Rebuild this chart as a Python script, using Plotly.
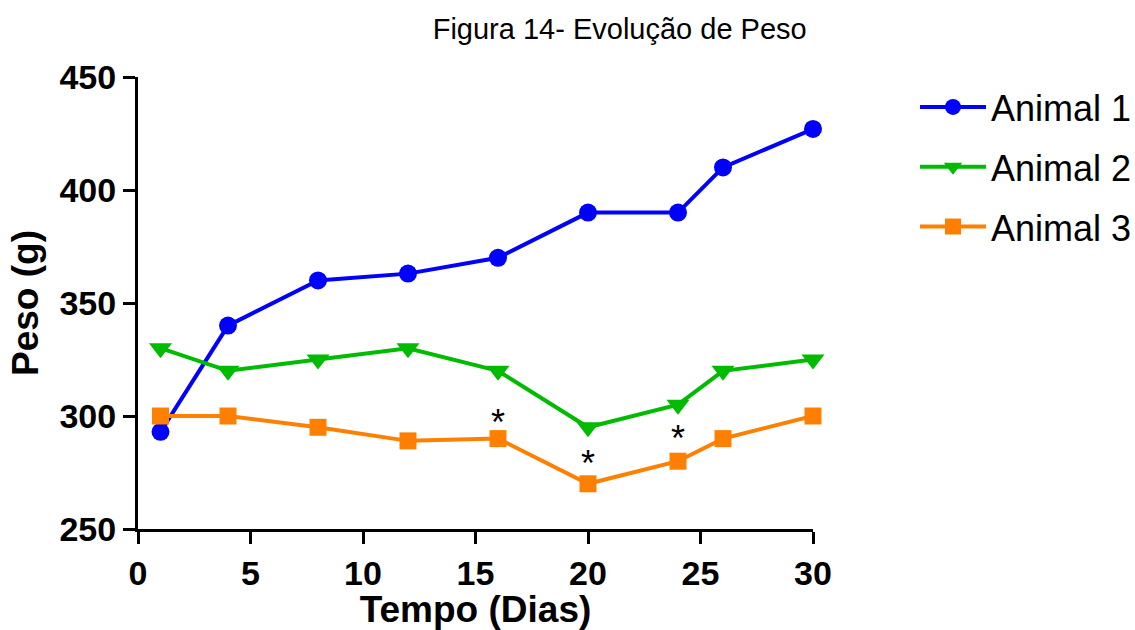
import plotly.graph_objects as go

dias = [1, 4, 8, 12, 16, 20, 24, 26, 30]
animal1 = [293, 340, 360, 363, 370, 390, 390, 410, 427]
animal2 = [330, 320, 325, 330, 320, 295, 305, 320, 325]
animal3 = [300, 300, 295, 289, 290, 270, 280, 290, 300]
ast_x = [16, 20, 24]
ast_y = [297, 279, 290]

fig = go.Figure()
specs = [
    ("Animal 1", animal1, "#0000FF", "circle", 18),
    ("Animal 2", animal2, "#00BB00", "triangle-down", 20),
    ("Animal 3", animal3, "#FF8000", "square", 17),
]
for name, ys, col, sym, sz in specs:
    fig.add_trace(go.Scatter(
        x=dias, y=ys, name=name, mode="lines+markers",
        line=dict(color=col, width=4),
        marker=dict(symbol=sym, size=sz, color=col),
        legendgroup=name, cliponaxis=False,
    ))

for x, y in zip(ast_x, ast_y):
    fig.add_annotation(x=x, y=y, text="*", showarrow=False,
                       font=dict(family="Arial", size=36, color="black"))

fig.update_layout(
    width=1135, height=630,
    margin=dict(l=138, r=322, t=77, b=101, autoexpand=False),
    paper_bgcolor="white", plot_bgcolor="white",
    title=dict(text="Figura 14- Evolução de Peso", x=0.546, xanchor="center",
               y=0.955, yanchor="middle",
               font=dict(family="Arial", size=29, color="black")),
    showlegend=True,
    legend=dict(xref="container", x=915 / 1135, xanchor="left",
                y=1.0, yanchor="top",
                font=dict(family="Arial", size=36, color="black"),
                traceorder="grouped", tracegroupgap=10,
                itemwidth=66),
    xaxis=dict(range=[0, 30], tickvals=[0, 5, 10, 15, 20, 25, 30],
               automargin=False,
               showgrid=False, zeroline=False, showline=True,
               linecolor="black", linewidth=3, ticks="outside",
               ticklen=12, tickwidth=3, tickcolor="black",
               tickfont=dict(family="Arial", size=34, color="black", weight="bold"),
               title=dict(text="<b>Tempo (Dias)</b>", standoff=4,
                          font=dict(family="Arial", size=37, color="black"))),
    yaxis=dict(range=[250, 450], tickvals=[250, 300, 350, 400, 450],
               automargin=False,
               showgrid=False, zeroline=False, showline=True,
               linecolor="black", linewidth=3, ticks="outside",
               ticklen=12, tickwidth=3, tickcolor="black",
               tickfont=dict(family="Arial", size=34, color="black", weight="bold"),
               title=dict(text="<b>Peso (g)</b>", standoff=10,
                          font=dict(family="Arial", size=37, color="black"))),
)

fig.write_html("out.html")
